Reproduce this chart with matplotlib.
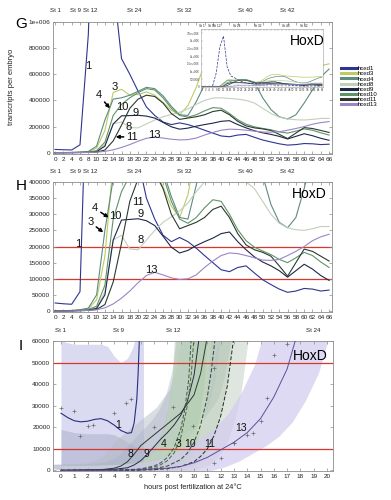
import numpy as np
import matplotlib
matplotlib.use("Agg")
import matplotlib.pyplot as plt
from matplotlib.transforms import blended_transform_factory

plt.rcParams['font.family'] = ['Liberation Sans', 'DejaVu Sans']

# ---------------- data (panels G / H) ----------------
hours = [0, 2, 4, 6, 8, 10, 12, 14, 16, 18, 20, 22, 24, 26, 28, 30, 32, 34,
         36, 38, 40, 42, 44, 46, 48, 50, 52, 54, 56, 58, 60, 62, 64, 66]
genes = ["hoxd1", "hoxd3", "hoxd4", "hoxd8", "hoxd9", "hoxd10", "hoxd11", "hoxd13"]

hoxd1 = [25000, 22500, 21000, 60000, 900000, 2600000, 3300000, 1300000, 720000, 600000,
         470000, 350000, 285000, 235000, 215000, 228000, 215000, 195000, 172000, 150000,
         128000, 122000, 135000, 140000, 118000, 97000, 82000, 68000, 58000, 62000,
         70000, 68000, 62000, 65000]
hoxd3 = [1000, 1000, 1500, 3000, 6000, 35000, 170000, 460000, 485000, 440000,
         445000, 465000, 440000, 385000, 325000, 290000, 360000, 500000, 680000, 780000,
         820000, 800000, 760000, 720000, 700000, 680000, 660000, 645000, 635000, 635000,
         640000, 650000, 665000, 680000]
hoxd4 = [1000, 1000, 2000, 4000, 9000, 50000, 250000, 410000, 420000, 440000,
         470000, 500000, 490000, 435000, 355000, 290000, 285000, 390000, 520000, 600000,
         660000, 690000, 700000, 650000, 540000, 420000, 330000, 275000, 258000, 290000,
         380000, 480000, 580000, 640000]
hoxd8 = [500, 500, 1000, 2000, 4000, 10000, 60000, 220000, 235000, 192000,
         190000, 220000, 250000, 275000, 292000, 310000, 335000, 370000, 400000, 418000,
         420000, 415000, 410000, 400000, 380000, 340000, 300000, 272000, 258000, 252000,
         250000, 255000, 262000, 262000]
hoxd9 = [500, 500, 1000, 2000, 3000, 8000, 50000, 220000, 282000, 284000,
         286000, 280000, 265000, 232000, 198000, 180000, 188000, 203000, 215000, 226000,
         240000, 245000, 215000, 190000, 168000, 152000, 140000, 125000, 105000, 125000,
         145000, 130000, 110000, 95000]
hoxd10 = [500, 500, 1000, 2000, 5000, 15000, 80000, 285000, 370000, 420000,
          460000, 490000, 480000, 420000, 340000, 285000, 272000, 290000, 320000, 345000,
          340000, 300000, 252000, 218000, 198000, 186000, 175000, 160000, 150000, 165000,
          182000, 172000, 152000, 135000]
hoxd11 = [300, 300, 500, 1000, 2000, 5000, 20000, 90000, 210000, 340000,
          410000, 440000, 430000, 380000, 300000, 255000, 265000, 275000, 290000, 315000,
          325000, 290000, 240000, 205000, 190000, 182000, 170000, 140000, 108000, 150000,
          192000, 185000, 170000, 155000]
hoxd13 = [0, 0, 500, 1000, 2000, 4000, 10000, 22000, 40000, 62000,
          88000, 110000, 120000, 112000, 103000, 98000, 100000, 112000, 135000, 155000,
          172000, 180000, 178000, 172000, 165000, 158000, 157000, 160000, 172000, 185000,
          200000, 218000, 230000, 238000]
series = [hoxd1, hoxd3, hoxd4, hoxd8, hoxd9, hoxd10, hoxd11, hoxd13]

stage_names = ["St 1", "St 9", "St 12", "St 24", "St 32", "St 40", "St 42"]
stage_hours = [0, 4.8, 8.5, 19.1, 31.0, 45.9, 56.0]

# ---------------- data (panel I) ----------------
i_h1 = [0, 0.5, 1, 1.5, 2, 2.5, 3, 3.5, 4, 4.5, 5, 5.3, 5.5, 5.7, 5.8, 5.9]
i_hoxd1 = [26500, 24500, 23000, 22500, 22800, 23600, 24000, 23000, 21000, 18500,
           17200, 17500, 22000, 33000, 45000, 62000]
i_h3 = [0, 4, 5, 6, 7, 7.5, 8, 8.5, 9, 9.5, 9.8, 10.0]
i_hoxd3 = [0, 100, 200, 500, 1500, 2600, 4500, 8000, 15000, 30000, 45000, 62000]
i_h4 = [0, 4, 5, 6, 7, 7.5, 8, 8.5, 9, 9.3, 9.6, 9.8]
i_hoxd4 = [0, 100, 300, 700, 2000, 3500, 6000, 10500, 19000, 28000, 42000, 62000]
i_h8 = [0, 3, 4, 4.5, 5, 5.5, 6, 7, 8, 9, 10, 10.5, 11]
i_hoxd8 = [0, 300, 1000, 2000, 4000, 7500, 11500, 16500, 21500, 26500, 35000, 45000, 62000]
i_h9 = [0, 3, 4, 5, 5.5, 6, 6.5, 7, 7.5, 8, 8.5, 9, 9.5, 10, 10.4]
i_hoxd9 = [0, 200, 500, 1200, 2500, 4500, 7500, 11000, 14500, 17500, 21000, 25500,
           32000, 44000, 62000]
i_h10 = [0, 5, 6, 7, 8, 9, 9.5, 10, 10.5, 11, 11.3, 11.6]
i_hoxd10 = [0, 100, 300, 800, 2000, 5000, 8000, 13000, 21000, 34000, 46000, 62000]
i_h11 = [0, 6, 7, 8, 9, 10, 10.5, 11, 11.5, 12, 12.5, 13]
i_hoxd11 = [0, 100, 300, 800, 1800, 4000, 6500, 10000, 16000, 25000, 39000, 62000]
i_h13 = [0, 4, 6, 8, 9, 10, 11, 12, 13, 14, 15, 16, 17, 17.7]
i_hoxd13 = [0, 0, 300, 1000, 1800, 3500, 6000, 9500, 13000, 17500, 24000, 34000, 47000, 62000]

i_band1_h = [0, 0.3, 1, 2, 3, 3.5, 4, 4.5, 5, 5.4, 5.6, 6.2]
i_band1_hi = [62000, 59500, 58500, 58500, 58500, 57500, 53000, 50000, 52000, 57000, 62000, 62000]
i_band1_in = [19000, 18500, 17500, 17000, 17000, 17000, 16500, 15000, 13000, 12000, 11000, 9000]

i_pts1_h = [0, 1, 1.4, 2, 2.4, 4, 4.9, 5.3]
i_pts1_v = [28900, 27300, 15800, 20400, 21000, 26600, 31200, 33000]
i_pts13_h = [12, 13, 14, 14.4, 15, 15.5, 16, 17]
i_pts13_v = [5800, 12700, 16600, 17300, 22700, 33500, 53400, 58800]
i_ptsx_h = [7, 8.4, 9.9, 11.5, 11.5, 13]
i_ptsx_v = [20300, 29200, 20400, 47300, 3500, 12700]

i_stage_names = ["St 1", "St 9", "St 12", "St 24"]
i_stage_hours = [0, 4.3, 8.4, 19.0]

# ---------------- style ----------------
colors = {"hoxd1": "#2e3590", "hoxd3": "#bccb62", "hoxd4": "#5f8a80", "hoxd8": "#c2cfbb",
          "hoxd9": "#1e2748", "hoxd10": "#5e9468", "hoxd11": "#2c3a2e", "hoxd13": "#9a86c6"}
RED = "#d8352c"

W, Hh = 391, 500
fig = plt.figure(figsize=(W / 100, Hh / 100), dpi=100)


def rect(l, t, r, b):
    return [l / W, 1 - b / Hh, (r - l) / W, (b - t) / Hh]


def style(ax, size=4.6):
    for s in ax.spines.values():
        s.set_color('#8c8c8c')
        s.set_linewidth(0.6)
    ax.tick_params(direction='in', length=2.5, width=0.5, labelsize=size,
                   colors='#8c8c8c', labelcolor='#222222', top=True, right=True, pad=2)


def stages(ax, hs, names, y=1.02, size=4.4):
    tr = blended_transform_factory(ax.transData, ax.transAxes)
    for h, n in zip(hs, names):
        ax.text(h, y, n, transform=tr, ha='center', va='bottom', fontsize=size, color='#222222')


axG = fig.add_axes(rect(53, 22, 332, 154))
axH = fig.add_axes(rect(53, 182, 332, 312))
axI = fig.add_axes(rect(53, 341, 333, 471))

# ---------- G ----------
handles = []
for name, vals in zip(genes, series):
    ln, = axG.plot(hours, vals, color=colors[name], lw=0.8)
    handles.append(ln)
axG.set_xlim(-0.5, 66.7)
axG.set_ylim(-10000, 1000000)
axG.set_xticks(hours)
axG.set_xticklabels([str(h) for h in hours])
axG.set_yticks([0, 200000, 400000, 600000, 800000, 1000000])
axG.set_yticklabels(['0', '200000', '400000', '600000', '800000', '1e+006'])
style(axG)
stages(axG, stage_hours, stage_names, y=1.07)

lab = dict(fontsize=8, ha='center', va='center', color='#111111')
arr = dict(arrowstyle='-|>', color='black', lw=1.1, mutation_scale=5, shrinkA=0, shrinkB=0)
axG.text(8.0, 667000, '1', **lab)
axG.text(14.4, 500000, '3', **lab)
axG.annotate('4', xy=(13.2, 340000), xytext=(10.5, 440000), arrowprops=arr, **lab)
axG.text(16.2, 350000, '10', **lab)
axG.text(19.3, 303000, '9', **lab)
axG.text(17.6, 200000, '8', **lab)
axG.annotate('11', xy=(14.6, 121000), xytext=(18.6, 121000), arrowprops=arr, **lab)
axG.text(23.9, 138000, '13', **lab)

# inset
axIn = fig.add_axes(rect(200.7, 29, 323.3, 87), zorder=5)
axIn.set_facecolor('white')
for name, vals in zip(genes, series):
    axIn.plot(hours, vals, color=colors[name], lw=0.5, ls='--' if name == 'hoxd1' else '-')
axIn.set_xlim(-0.5, 66.7)
axIn.set_ylim(0, 3760000)
axIn.set_xticks(hours)
axIn.set_xticklabels([str(h) for h in hours])
axIn.set_yticks([0, 500000, 1000000, 1500000, 2000000, 2500000, 3000000, 3500000])
axIn.set_yticklabels(['0', '500000', '1e+006', '1.5e+006', '2e+006', '2.5e+006', '3e+006', '3.5e+006'])
for s in axIn.spines.values():
    s.set_color('#9a9a9a')
    s.set_linewidth(0.4)
axIn.tick_params(direction='in', length=1.2, width=0.3, labelsize=2.2, colors='#9a9a9a',
                 labelcolor='#444444', top=True, pad=1)
stages(axIn, stage_hours, stage_names, y=1.02, size=2.3)
axIn.text(0.87, 0.8, 'HoxD', transform=axIn.transAxes, fontsize=10, ha='center', va='center',
          zorder=10, clip_on=False)

fig.legend(handles, genes, loc='upper left', bbox_to_anchor=(341 / W, 1 - 66 / Hh),
           fontsize=4.3, frameon=False, handlelength=2.6, handletextpad=0.2,
           labelspacing=0.0, borderpad=0, borderaxespad=0)
for lh in fig.legends[0].get_lines():
    lh.set_linewidth(2.2)

fig.text(12 / W, 1 - 87 / Hh, 'transcripts per embryo', rotation=90, fontsize=5.5,
         ha='center', va='center', color='#222222')

# ---------- H ----------
for name, vals in zip(genes, series):
    axH.plot(hours, vals, color=colors[name], lw=0.8)
axH.axhline(100000, color=RED, lw=0.9, zorder=1)
axH.axhline(200000, color=RED, lw=0.9, zorder=1)
axH.set_xlim(-0.5, 66.7)
axH.set_ylim(-3000, 400000)
axH.set_xticks(hours)
axH.set_xticklabels([str(h) for h in hours])
axH.set_yticks(list(range(0, 400001, 50000)))
axH.set_yticklabels([str(v) for v in range(0, 400001, 50000)])
style(axH)
stages(axH, stage_hours, stage_names, y=1.065)
axH.text(0.92, 0.905, 'HoxD', transform=axH.transAxes, fontsize=10, ha='center', va='center')
axH.text(5.6, 208000, '1', **lab)
axH.annotate('4', xy=(12.9, 290000), xytext=(9.6, 318000), arrowprops=arr, **lab)
axH.text(14.6, 296000, '10', **lab)
axH.annotate('3', xy=(11.6, 244000), xytext=(8.5, 275000), arrowprops=arr, **lab)
axH.text(19.9, 339000, '11', **lab)
axH.text(20.5, 301000, '9', **lab)
axH.text(20.7, 221000, '8', **lab)
axH.text(23.3, 128000, '13', **lab)

# ---------- I ----------
def band(ax, h, v, dx, dy, color, alpha):
    h = np.asarray(h, float)
    v = np.asarray(v, float)
    xs = np.concatenate([h - dx, (h + dx)[::-1]])
    ys = np.concatenate([v + dy, (v - dy)[::-1]])
    ax.fill(xs, ys, color=color, alpha=alpha, lw=0, zorder=1)


axI.fill_between(i_band1_h, 0, i_band1_hi, color='#d6d6ef', alpha=0.9, lw=0, zorder=1)
axI.fill_between(i_band1_h, 0, i_band1_in, color='#a9abc8', alpha=0.5, lw=0, zorder=1)
band(axI, i_h8, i_hoxd8, 1.8, 2500, '#b7bdc6', 0.5)
band(axI, i_h9, i_hoxd9, 1.6, 2500, '#a9b2c8', 0.4)
band(axI, i_h3, i_hoxd3, 1.3, 2000, '#d5e3bd', 0.6)
band(axI, i_h4, i_hoxd4, 1.2, 2000, '#a9c4b4', 0.45)
band(axI, i_h10, i_hoxd10, 1.3, 2000, '#b4d0b0', 0.45)
band(axI, i_h11, i_hoxd11, 1.1, 2000, '#b9c6ba', 0.45)
band(axI, i_h13, i_hoxd13, 2.4, 2000, '#d2cbee', 0.7)

axI.axhline(10000, color=RED, lw=0.9, zorder=2)
axI.axhline(50000, color=RED, lw=0.9, zorder=2)

axI.plot(i_h1, i_hoxd1, color='#2a2f80', lw=0.8, zorder=3)
axI.plot(i_h8, i_hoxd8, color='#2e3a34', lw=0.7, zorder=3)
axI.plot(i_h9, i_hoxd9, color='#262c48', lw=0.7, zorder=3)
axI.plot(i_h3, i_hoxd3, color='#4f6a36', lw=0.7, ls=(0, (4, 2)), zorder=3)
axI.plot(i_h4, i_hoxd4, color='#3a5a4e', lw=0.7, ls=(0, (4, 2)), zorder=3)
axI.plot(i_h10, i_hoxd10, color='#2e4a36', lw=0.7, ls=(0, (4, 2)), zorder=3)
axI.plot(i_h11, i_hoxd11, color='#222a24', lw=0.7, ls=(0, (4, 2)), zorder=3)
axI.plot(i_h13, i_hoxd13, color='#5e4e9a', lw=0.7, zorder=3)

pt = dict(marker='+', ls='none', ms=3, mew=0.5, color='#6a6a6a', zorder=4)
axI.plot(i_pts1_h, i_pts1_v, **pt)
axI.plot(i_pts13_h, i_pts13_v, **pt)
axI.plot(i_ptsx_h, i_ptsx_v, **pt)

axI.set_xlim(-0.6, 20.45)
axI.set_ylim(-300, 60000)
axI.set_xticks(list(range(0, 21)))
axI.set_xticklabels([str(h) for h in range(0, 21)])
axI.set_yticks(list(range(0, 60001, 10000)))
axI.set_yticklabels([str(v) for v in range(0, 60001, 10000)])
style(axI)
stages(axI, i_stage_hours, i_stage_names, y=1.06)
axI.set_xlabel('hours post fertilization at 24\u00b0C', fontsize=5.3, labelpad=3, color='#222222')
axI.text(0.918, 0.885, 'HoxD', transform=axI.transAxes, fontsize=10, ha='center', va='center', zorder=6)
labI = dict(fontsize=7.5, ha='center', va='center', color='#111111', zorder=6)
axI.text(4.3, 21200, '1', **labI)
axI.text(5.2, 7800, '8', **labI)
axI.text(6.4, 7400, '9', **labI)
axI.text(7.7, 12000, '4', **labI)
axI.text(8.8, 12000, '3', **labI)
axI.text(9.7, 12000, '10', **labI)
axI.text(11.2, 12000, '11', **labI)
axI.text(13.5, 19700, '13', **labI)

# panel letters
fig.text(21 / W, 1 - 24 / Hh, 'G', fontsize=11, ha='center', va='center')
fig.text(21 / W, 1 - 186 / Hh, 'H', fontsize=11, ha='center', va='center')
fig.text(21 / W, 1 - 346 / Hh, 'I', fontsize=11, ha='center', va='center')

fig.savefig('out.png', dpi=100)
